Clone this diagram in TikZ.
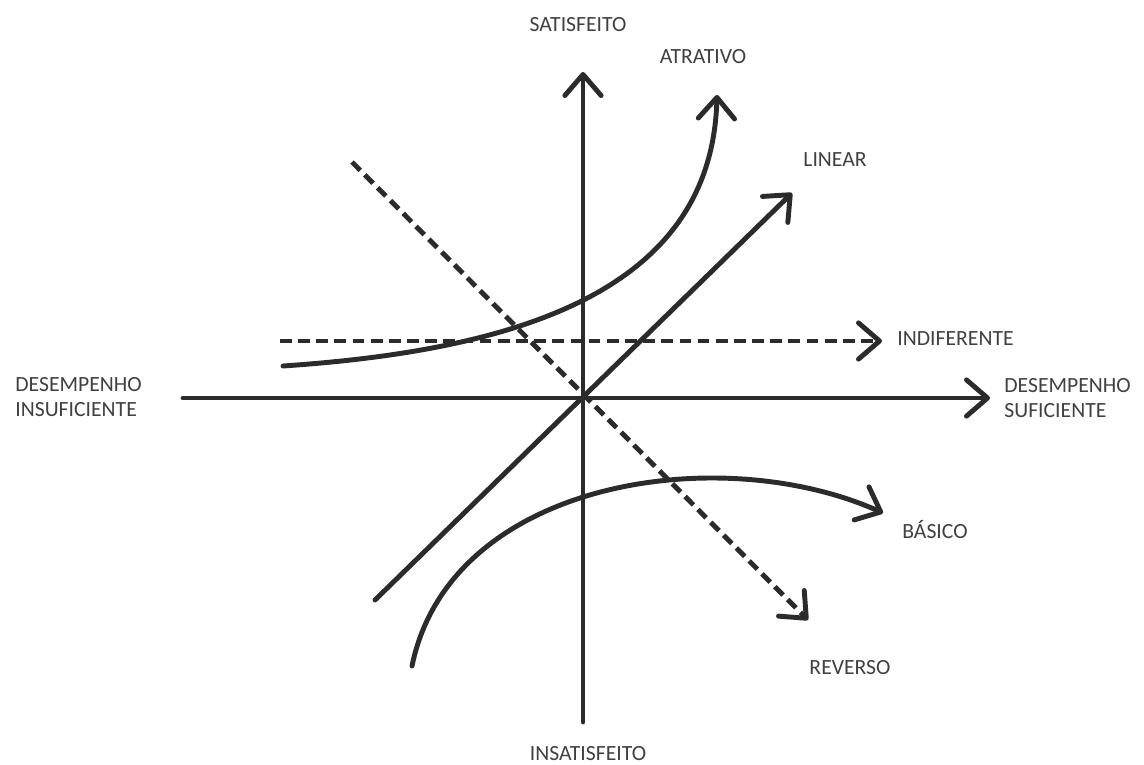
\documentclass[tikz,border=0pt]{standalone}
\usepackage{fontspec}
\setmainfont{Carlito}
\usetikzlibrary{arrows.meta}
\definecolor{ink}{HTML}{2B2B2B}
\definecolor{txt}{HTML}{404040}
\begin{document}
\begin{tikzpicture}[x=0.03cm,y=-0.03cm,
 font=\fontsize{18.5}{22}\selectfont,
 lbl/.style={text=txt,inner sep=1pt},
 arr/.style={line width=4.2pt,draw=ink,line cap=round,
   -{Straight Barb[length=18pt,width=31pt,round]}},
 dsh/.style={arr,line cap=butt,dash pattern=on 10pt off 5.5pt}]
\useasboundingbox (0,0) rectangle (1144,765);
% axes
\coordinate (xmin) at (183,398);
\coordinate (xmax) at (990,398);
\coordinate (ymin) at (583,722);
\coordinate (ymax) at (583,72);
\draw[arr] (xmin) -- (xmax);
\draw[arr] (ymin) -- (ymax);
\node[lbl] (sat) at (578,25) {SATISFEITO};
\node[lbl] (insat) at (588,754) {INSATISFEITO};
\node[lbl,align=left,anchor=west] (insuf) at (14,397) {DESEMPENHO\\INSUFICIENTE};
\node[lbl,align=left,anchor=west] (suf) at (1003,398) {DESEMPENHO\\SUFICIENTE};
% curves
\coordinate (atrA) at (283,366);
\coordinate (atrB) at (717,95);
\draw[arr] (atrA) .. controls (520,350) and (712,290) .. (atrB);
\node[lbl] (atr) at (703,57) {ATRATIVO};
\coordinate (linA) at (375,600);
\coordinate (linB) at (792,193);
\draw[arr] (linA) -- (linB);
\node[lbl] (lin) at (835,160) {LINEAR};
\coordinate (indA) at (280,341);
\coordinate (indB) at (882,341);
\draw[dsh] (indA) -- (indB);
\node[lbl,anchor=west] (ind) at (896,339) {INDIFERENTE};
\coordinate (basA) at (412,666);
\coordinate (basB) at (883,513);
\draw[arr] (basA) .. controls (450,480) and (720,440) .. (basB);
\node[lbl] (bas) at (935,530) {BÁSICO};
\coordinate (revA) at (352,162);
\coordinate (revB) at (808,620);
\draw[dsh] (revA) -- (revB);
\node[lbl] (rev) at (850,668) {REVERSO};
\end{tikzpicture}
\end{document}
